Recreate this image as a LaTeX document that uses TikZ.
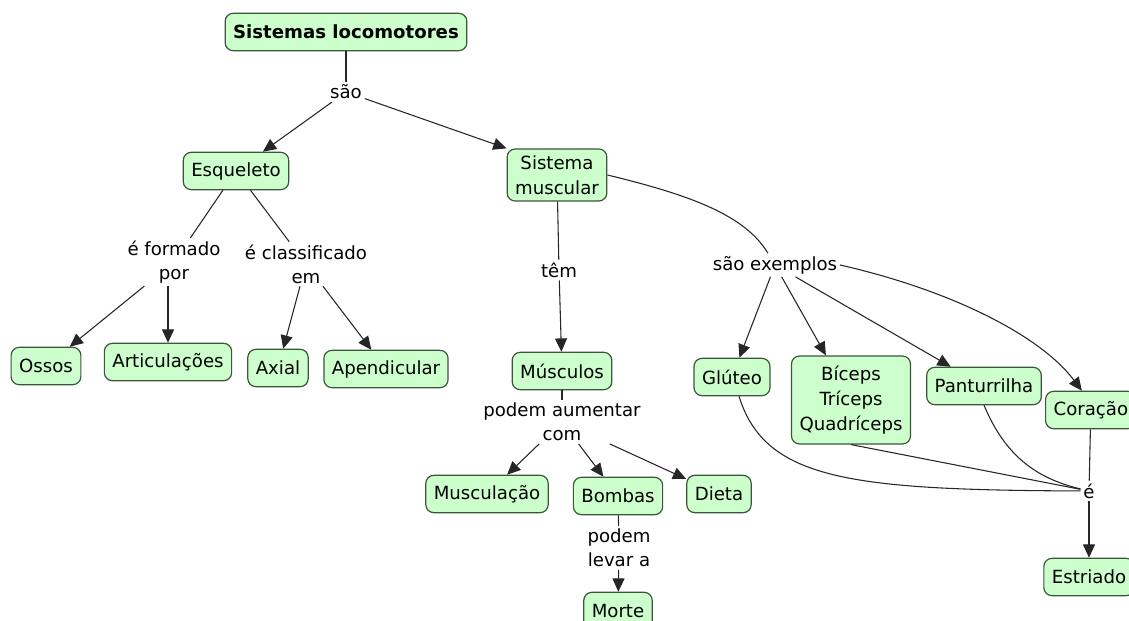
\documentclass[tikz,border=0pt]{standalone}
\usepackage{fontspec}
\setmainfont{DejaVu Sans}
\usetikzlibrary{arrows.meta}

\definecolor{conceptfill}{RGB}{204,255,204}
\definecolor{conceptline}{RGB}{60,85,60}

\begin{document}
\begin{tikzpicture}[x=0.75pt,y=-0.75pt,
  concept/.style={draw=conceptline, fill=conceptfill, rounded corners=6pt,
    line width=0.9pt, inner xsep=6pt, inner ysep=5pt, minimum height=28pt,
    align=center, font=\fontsize{13.6}{18.5}\selectfont},
  linkword/.style={inner sep=2pt, align=center, font=\fontsize{13.6}{18}\selectfont},
  conn/.style={draw=black!85, line width=0.8pt},
  arr/.style={conn, -{Triangle[length=10pt,width=9pt]}}]

\useasboundingbox (0,0) rectangle (1129,621);

% concepts
\node[concept, font=\fontsize{13.6}{18}\selectfont\bfseries] (title) at (346,32) {Sistemas locomotores};
\node[concept] (esq) at (236,171) {Esqueleto};
\node[concept] (sismusc) at (557,175) {Sistema\\muscular};
\node[concept] (ossos) at (46,366) {Ossos};
\node[concept] (artic) at (168,362) {Articulações};
\node[concept] (axial) at (278,368) {Axial};
\node[concept] (apend) at (386,369) {Apendicular};
\node[concept] (musculos) at (562,371) {Músculos};
\node[concept] (muscula) at (487,494) {Musculação};
\node[concept] (bombas) at (618,496) {Bombas};
\node[concept] (dieta) at (719,494) {Dieta};
\node[concept] (morte) at (618,611) {Morte};
\node[concept] (gluteo) at (732,377) {Glúteo};
\node[concept, minimum height=66pt] (biceps) at (851,400) {Bíceps\\Tríceps\\Quadríceps};
\node[concept] (pantur) at (984,386) {Panturrilha};
\node[concept, anchor=west] (coracao) at (1045,410) {Coração};
\node[concept] (estriado) at (1089,577) {Estriado};

% linking words
\node[linkword] (sao) at (346,92) {são};
\node[linkword] (formado) at (174,262) {é formado\\por};
\node[linkword] (classif) at (306,264) {é classificado\\em};
\node[linkword] (tem) at (559,270) {têm};
\node[linkword] (exemplos) at (775,265) {são exemplos};
\node[linkword] (aumentar) at (562,422) {podem aumentar\\com};
\node[linkword] (levar) at (619,548) {podem\\levar a};
\node[linkword] (e) at (1089,491) {é};

% connections
\draw[conn] (title) -- (sao);
\draw[arr] (sao) -- (esq);
\draw[arr] (sao) -- (sismusc.north west);
\draw[conn] (esq) -- (formado);
\draw[conn] (esq) -- (classif);
\draw[arr] (formado) -- (ossos);
\draw[arr] (formado.south -| artic) -- (artic);
\draw[arr] (classif) -- (axial);
\draw[arr] (classif) -- (apend);
\draw[conn] (sismusc) -- (tem);
\draw[arr] (tem) -- (musculos);
\draw[conn] (sismusc.east) .. controls (690,195) and (745,215) .. (exemplos);
\draw[arr] (exemplos) -- (gluteo);
\draw[arr] (exemplos) -- (biceps);
\draw[arr] (exemplos) -- (pantur);
\draw[arr] (exemplos.east) .. controls (950,290) and (1040,335) .. (coracao.115);
\draw[conn] (musculos) -- (aumentar);
\draw[arr] (aumentar) -- (muscula);
\draw[arr] (aumentar) -- (bombas);
\draw[arr] (aumentar) -- (dieta);
\draw[conn] (bombas) -- (levar);
\draw[arr] (levar) -- (morte);
\draw[conn] (gluteo.290) .. controls (765,480) and (850,490) .. (e);
\draw[conn] (biceps.south) -- (e);
\draw[conn] (pantur.south) .. controls (1005,455) and (1035,478) .. (e);
\draw[conn] (coracao) -- (e);
\draw[arr] (e) -- (estriado);
\end{tikzpicture}
\end{document}
